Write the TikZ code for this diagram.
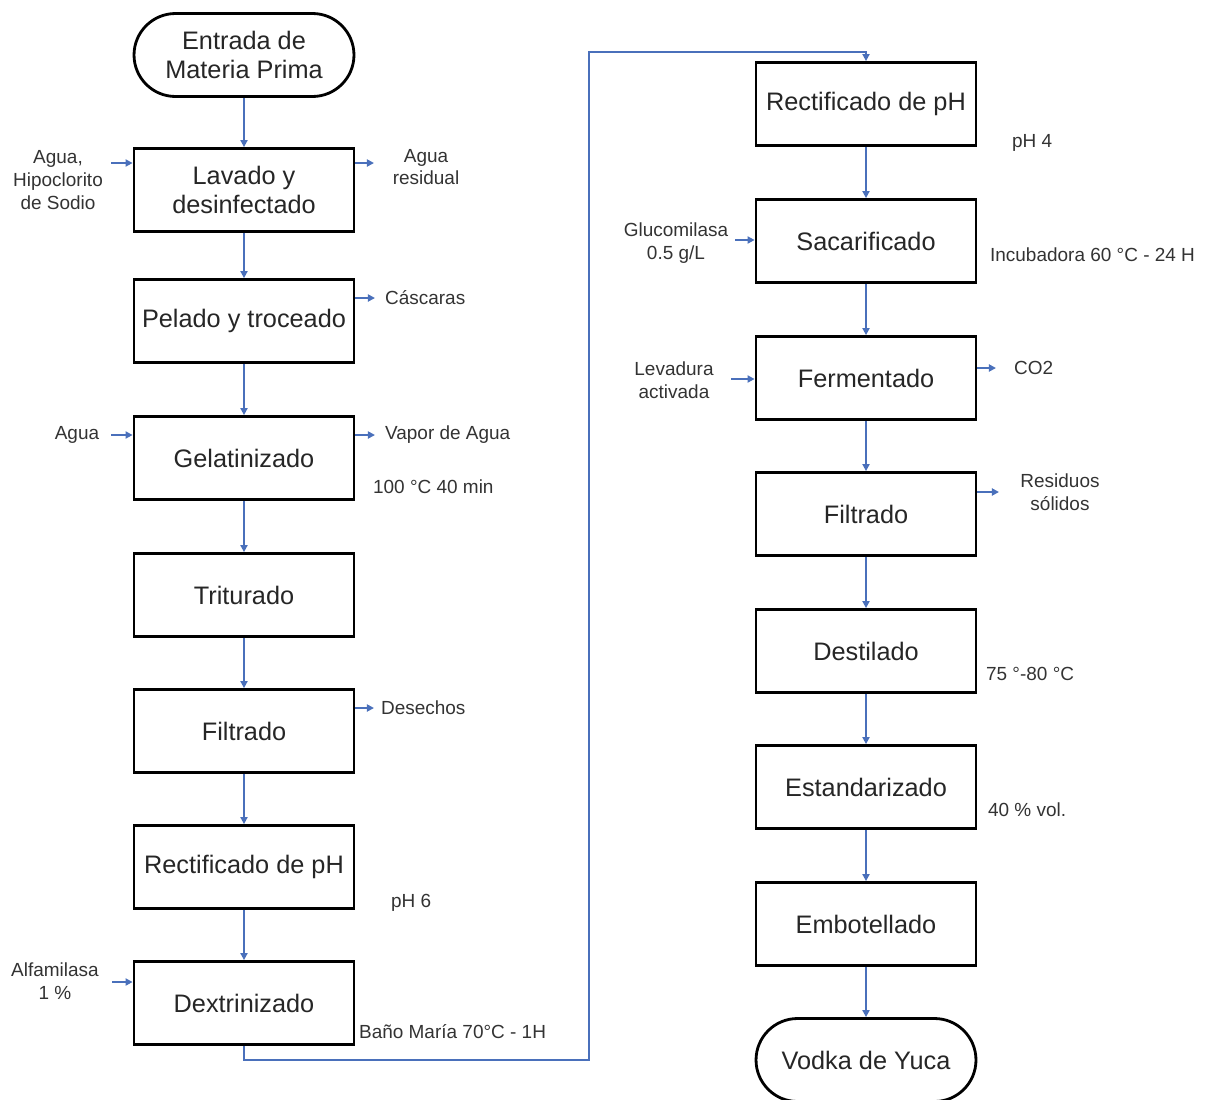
\documentclass[tikz,border=0pt]{standalone}
\usepackage{fontspec}
\setmainfont{Liberation Sans}
\usetikzlibrary{arrows.meta}

\definecolor{flujo}{RGB}{74,112,187}

\begin{document}
\begin{tikzpicture}[x=0.02cm,y=-0.02cm,>={Triangle[length=4pt,width=4pt]},
  proceso/.style={draw,line width=1.6pt,minimum width=4.4cm,minimum height=1.66cm,
    inner sep=0pt,align=center,font=\fontsize{14.4}{17}\selectfont,text=black!85},
  terminal/.style={proceso,rounded corners=0.83cm},
  flecha/.style={->,draw=flujo,line width=1.1pt},
  nota/.style={font=\fontsize{10.8}{13}\selectfont,text=black!80,align=center,inner sep=1pt}]
  \useasboundingbox (0,0) rectangle (1209,1099);

  % columna izquierda
  \node[terminal] (entrada) at (244,55) {Entrada de\\Materia Prima};
  \node[proceso] (lavado) at (244,190) {Lavado y\\desinfectado};
  \node[proceso] (pelado) at (244,321) {Pelado y troceado};
  \node[proceso] (gelat) at (244,458) {Gelatinizado};
  \node[proceso] (tritur) at (244,595) {Triturado};
  \node[proceso] (filtr1) at (244,731) {Filtrado};
  \node[proceso] (rectif1) at (244,867) {Rectificado de pH};
  \node[proceso] (dextr) at (244,1003) {Dextrinizado};

  % columna derecha
  \node[proceso] (rectif2) at (866,104) {Rectificado de pH};
  \node[proceso] (sacar) at (866,241) {Sacarificado};
  \node[proceso] (ferm) at (866,378) {Fermentado};
  \node[proceso] (filtr2) at (866,514) {Filtrado};
  \node[proceso] (destil) at (866,651) {Destilado};
  \node[proceso] (estand) at (866,787) {Estandarizado};
  \node[proceso] (embot) at (866,924) {Embotellado};
  \node[terminal] (vodka) at (866,1060) {Vodka de Yuca};

  \foreach \a/\b in {entrada/lavado,lavado/pelado,pelado/gelat,gelat/tritur,
    tritur/filtr1,filtr1/rectif1,rectif1/dextr,rectif2/sacar,sacar/ferm,
    ferm/filtr2,filtr2/destil,destil/estand,estand/embot,embot/vodka}
    \draw[flecha] (\a) -- (\b);

  \coordinate (c1) at (589,1060);
  \coordinate (c2) at (589,52);
  \draw[flecha] (dextr.south) |- (c1) -- (c2) -| (rectif2.north);

  % entradas y salidas
  \node[nota] (t1) at (58,180) {Agua,\\Hipoclorito\\de Sodio};
  \node[nota] (t2) at (426,167) {Agua\\residual};
  \node[nota,anchor=west] (t3) at (383,298) {Cáscaras};
  \node[nota] (t4) at (77,435) {Agua};
  \node[nota,anchor=west] (t5) at (383,435) {Vapor de Agua};
  \node[nota,anchor=west] (t6) at (371,487) {100 °C 40 min};
  \node[nota,anchor=west] (t7) at (379,708) {Desechos};
  \node[nota,anchor=west] (t8) at (389,903) {pH 6};
  \node[nota] (t9) at (55,981) {Alfamilasa\\1 \%};
  \node[nota,anchor=west] (t10) at (357,1032) {Baño María 70°C - 1H};
  \node[nota,anchor=west] (t11) at (1010,143) {pH 4};
  \node[nota] (t12) at (676,243) {Glucomilasa\\0.5 g/L};
  \node[nota,anchor=west] (t13) at (988,255) {Incubadora 60 °C - 24 H};
  \node[nota] (t14) at (674,380) {Levadura\\activada};
  \node[nota,anchor=west] (t15) at (1012,368) {CO2};
  \node[nota] (t16) at (1060,492) {Residuos\\sólidos};
  \node[nota,anchor=west] (t17) at (984,674) {75 °-80 °C};
  \node[nota,anchor=west] (t18) at (986,810) {40 \% vol.};

  \coordinate (e1) at (111,163);
  \coordinate (e2) at (111,435);
  \coordinate (e3) at (112,982);
  \coordinate (e4) at (735,240);
  \coordinate (e5) at (731,379);
  \coordinate (s1) at (374,163);
  \coordinate (s2) at (375,298);
  \coordinate (s3) at (375,435);
  \coordinate (s4) at (374,708);
  \coordinate (s5) at (996,368);
  \coordinate (s6) at (999,492);
  \draw[flecha] (e1) -- (e1 -| lavado.west);
  \draw[flecha] (e2) -- (e2 -| gelat.west);
  \draw[flecha] (e3) -- (e3 -| dextr.west);
  \draw[flecha] (e4) -- (e4 -| sacar.west);
  \draw[flecha] (e5) -- (e5 -| ferm.west);
  \draw[flecha] (s1 -| lavado.east) -- (s1);
  \draw[flecha] (s2 -| pelado.east) -- (s2);
  \draw[flecha] (s3 -| gelat.east) -- (s3);
  \draw[flecha] (s4 -| filtr1.east) -- (s4);
  \draw[flecha] (s5 -| ferm.east) -- (s5);
  \draw[flecha] (s6 -| filtr2.east) -- (s6);
\end{tikzpicture}
\end{document}
